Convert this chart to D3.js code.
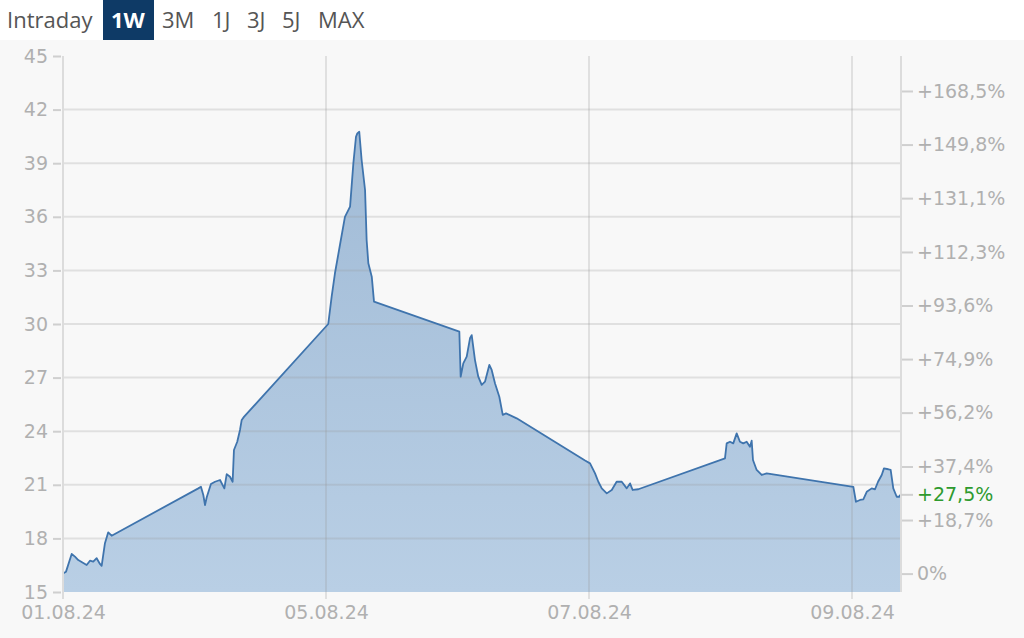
<!DOCTYPE html>
<html><head><meta charset="utf-8">
<script src="https://cdn.jsdelivr.net/npm/d3@7"></script>
<style>
html,body{margin:0;padding:0;background:#f8f8f8;}
svg{display:block;}
</style></head>
<body>
<svg id="c" width="1024" height="638"></svg>
<script>
// ---- data ----
const tabs = ["Intraday","1W","3M","1J","3J","5J","MAX"];
const activeTab = "1W";
// time in trading days since 01.08.24 open
const times = [0,0.023,0.066,0.091,0.116,0.180,0.205,0.230,0.256,0.281,0.294,0.319,0.344,0.370,
 1.029,1.049,1.067,1.080,1.093,1.125,1.156,1.194,1.227,1.245,1.270,1.290,1.300,1.325,1.346,1.359,1.376,
 2.017,2.043,2.068,2.106,2.144,2.183,2.208,2.228,2.238,2.253,2.271,2.297,2.309,2.322,2.348,2.365,
 3.014,3.024,3.044,3.070,3.095,3.108,3.133,3.158,3.184,3.209,3.242,3.260,3.285,3.318,3.344,3.369,3.450,
 3.970,4.008,4.046,4.071,4.097,4.135,4.173,4.210,4.249,4.287,4.312,4.332,4.375,
 5.034,5.047,5.072,5.097,5.123,5.148,5.173,5.199,5.224,5.237,5.247,5.275,5.313,5.351,
 6.010,6.030,6.061,6.086,6.112,6.150,6.175,6.198,6.226,6.243,6.276,6.294,6.314,6.340,6.360,6.365];
const prices = [16.03,16.14,17.13,16.98,16.79,16.51,16.75,16.70,16.89,16.57,16.46,17.73,18.34,18.15,
 20.80,20.89,20.43,19.87,20.30,21.04,21.17,21.27,20.80,21.60,21.45,21.17,22.95,23.41,24.07,24.63,24.80,
 30.00,31.53,32.84,34.42,36.00,36.57,38.99,40.48,40.67,40.76,39.18,37.50,34.70,33.40,32.65,31.25,
 29.57,27.05,27.80,28.17,29.20,29.38,27.98,27.05,26.59,26.77,27.71,27.43,26.68,25.93,24.91,25.00,24.72,
 22.36,22.20,21.64,21.17,20.80,20.52,20.71,21.17,21.17,20.80,21.08,20.71,20.75,
 22.48,23.32,23.41,23.32,23.88,23.41,23.32,23.41,23.13,23.47,22.39,21.83,21.55,21.64,
 20.89,20.05,20.15,20.19,20.61,20.80,20.75,21.17,21.55,21.92,21.87,21.83,20.80,20.33,20.33,20.44];
const basePrice = 16.03;
const yTicks = [15,18,21,24,27,30,33,36,39,42,45];
const xTickDays = [0,2,4,6];
const xTickLabels = ["01.08.24","05.08.24","07.08.24","09.08.24"];
const pctTicks = [0,18.7,37.4,56.2,74.9,93.6,112.3,131.1,149.8,168.5];
const pctLabels = ["0%","+18,7%","+37,4%","+56,2%","+74,9%","+93,6%","+112,3%","+131,1%","+149,8%","+168,5%"];
const currentPct = 27.5, currentLabel = "+27,5%";

// ---- layout ----
const svg = d3.select("#c");
const L = 63, R = 900, T = 56, B = 592;
const x = d3.scaleLinear().domain([0, 6.365]).range([L, R]);
const y = d3.scaleLinear().domain([15, 45]).range([B, T]);
const font = "DejaVu Sans, sans-serif";
const grey = "#b0b0b0";

// top white band with tabs
svg.append("rect").attr("x",0).attr("y",0).attr("width",1024).attr("height",40).attr("fill","#ffffff");
const tabX = [7,111,162,212,247,282,318];
const tg = svg.append("g");
tabs.forEach((t,i)=>{
  if (t===activeTab){
    tg.append("rect").attr("x",103).attr("y",0).attr("width",51).attr("height",40).attr("fill","#0e3a66");
  }
  tg.append("text").attr("x",tabX[i]).attr("y",28)
    .attr("font-family","Open Sans, sans-serif").attr("font-size",22)
    .attr("font-weight", t===activeTab?700:400)
    .attr("fill", t===activeTab?"#ffffff":"#555555").text(t);
});

// gradient
const defs = svg.append("defs");
const grad = defs.append("linearGradient").attr("id","g1").attr("gradientUnits","userSpaceOnUse")
  .attr("x1",0).attr("y1",T).attr("x2",0).attr("y2",B);
grad.append("stop").attr("offset","0").attr("stop-color","#9db8d4");
grad.append("stop").attr("offset","1").attr("stop-color","#b9cfe5");

const data = times.map((t,i)=>[t,prices[i]]);
svg.append("path").datum(data)
  .attr("d", d3.area().x(d=>x(d[0])).y0(B).y1(d=>y(d[1])))
  .attr("fill","url(#g1)");

// gridlines (over the area, translucent)
const gc = "rgba(150,150,150,0.24)";
svg.append("g").selectAll("line").data(yTicks.filter(v=>v>15 && v<45)).join("line")
  .attr("x1",L).attr("x2",R).attr("y1",d=>y(d)).attr("y2",d=>y(d))
  .attr("stroke",gc).attr("stroke-width",2);
svg.append("g").selectAll("line").data(xTickDays.filter(d=>d>0)).join("line")
  .attr("x1",d=>x(d)).attr("x2",d=>x(d)).attr("y1",T).attr("y2",B+7)
  .attr("stroke",gc).attr("stroke-width",2);

// line
svg.append("path").datum(data)
  .attr("d", d3.line().x(d=>x(d[0])).y(d=>y(d[1])))
  .attr("fill","none").attr("stroke","#3f74ad").attr("stroke-width",1.8).attr("stroke-linejoin","round");

// left axis
const axL = d3.axisLeft(y).tickValues(yTicks).tickSize(10).tickPadding(5).tickSizeOuter(0);
const gL = svg.append("g").attr("transform",`translate(${L},0)`).call(axL);
gL.select(".domain").remove();
gL.selectAll(".tick line").attr("stroke","#cfcfcf").attr("stroke-width",2).attr("x1",-2);
gL.selectAll(".tick text").attr("font-family",font).attr("font-size",19).attr("fill",grey);
svg.append("line").attr("x1",L).attr("x2",L).attr("y1",T).attr("y2",B+7).attr("stroke","#dcdcdc").attr("stroke-width",2);

// right axis
const pctVal = p => basePrice*(1+p/100);
const axR = d3.axisRight(y).tickValues(pctTicks.map(pctVal)).tickSize(12).tickPadding(4)
  .tickFormat((d,i)=>pctLabels[i]).tickSizeOuter(0);
const gR = svg.append("g").attr("transform",`translate(${R+1},0)`).call(axR);
gR.select(".domain").remove();
gR.selectAll(".tick line").attr("stroke","#cfcfcf").attr("stroke-width",2);
gR.selectAll(".tick text").attr("font-family",font).attr("font-size",19).attr("fill",grey);
svg.append("line").attr("x1",R+1).attr("x2",R+1).attr("y1",T).attr("y2",B).attr("stroke","#dcdcdc").attr("stroke-width",2);
// current value marker
const cg = svg.append("g").attr("transform",`translate(${R+1},${y(pctVal(currentPct))})`);
cg.append("line").attr("x1",0).attr("x2",12).attr("stroke","#cfcfcf").attr("stroke-width",2);
cg.append("text").attr("x",16).attr("dy","0.32em").attr("font-family",font).attr("font-size",19)
  .attr("fill","#2e9a2e").text(currentLabel);

// bottom axis
const axB = d3.axisBottom(x).tickValues(xTickDays).tickFormat((d,i)=>xTickLabels[i]).tickSize(0).tickPadding(14);
const gB = svg.append("g").attr("transform",`translate(0,${B})`).call(axB);
gB.select(".domain").remove();
gB.selectAll(".tick text").attr("font-family",font).attr("font-size",19).attr("fill",grey);
</script>
</body></html>
